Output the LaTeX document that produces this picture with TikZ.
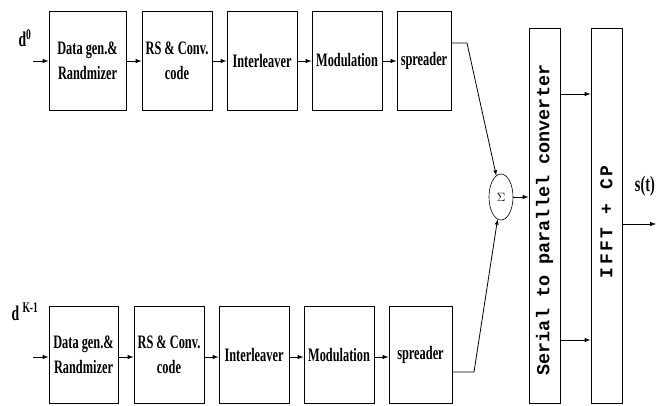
\documentclass[tikz,border=0pt]{standalone}
\usepackage{fontspec}
\usetikzlibrary{shapes.geometric}
\newfontfamily\blockfont[FakeStretch=0.65]{Liberation Serif}
\newfontfamily\vertfont{Liberation Mono}
\newfontfamily\spacedfont[LetterSpace=14]{Liberation Mono}
\tikzstyle{block}=[draw,line width=1pt,inner sep=0pt,align=center,font=\blockfont\bfseries\fontsize{19}{25}\selectfont]
\tikzstyle{tall}=[draw,line width=1pt,inner sep=0pt,minimum width=31pt,minimum height=375pt]
\tikzset{>=latex}

\begin{document}
\begin{tikzpicture}[x=1pt,y=-1pt]
\useasboundingbox (0,0) rectangle (656,405);
% upper branch
\node[block,minimum width=77pt,minimum height=99pt] at (87.5,60.5) (a1) {Data gen.\&\\Randmizer};
\node[block,minimum width=70pt,minimum height=99pt] at (177,60.5) (a2) {RS \& Conv.\\code};
\node[block,minimum width=70pt,minimum height=99pt] at (262,60.5) (a3) {Interleaver};
\node[block,minimum width=70pt,minimum height=99pt] at (347,60.5) (a4) {Modulation};
\node[block,minimum width=54pt,minimum height=99pt] at (424,60.5) (a5) {spreader};
% lower branch
\node[block,minimum width=69pt,minimum height=97pt] at (83.5,355) (b1) {Data gen.\&\\Randmizer};
\node[block,minimum width=70pt,minimum height=97pt] at (169,355) (b2) {RS \& Conv.\\code};
\node[block,minimum width=70pt,minimum height=97pt] at (254,355) (b3) {Interleaver};
\node[block,minimum width=70pt,minimum height=97pt] at (339,355) (b4) {Modulation};
\node[block,minimum width=63pt,minimum height=97pt] at (420.5,355) (b5) {spreader};
% inputs
\node[font=\blockfont\bfseries\fontsize{21}{21}\selectfont] at (25,38) (d0) {d\textsuperscript{0}};
\node[font=\blockfont\bfseries\fontsize{21}{21}\selectfont] at (25,312) (dK) {d \textsuperscript{K-1}};
\coordinate (in0) at (33,61);
\coordinate (in1) at (33,357);
% sum, converter, ifft
\node[draw,ellipse,line width=0.6pt,minimum width=24pt,minimum height=46pt,inner sep=0pt] at (501,197) (sum) {\fontsize{13}{13}\selectfont$\Sigma$};
\node[tall] at (544.5,215.5) (sp) {};
\node[tall] at (606.5,215.5) (ifft) {};
\node[rotate=90,font=\vertfont\bfseries\fontsize{18.5}{18.5}\selectfont] at (544.5,220) (sptext) {Serial to parallel converter};
\node[rotate=90,font=\spacedfont\bfseries\fontsize{18}{18}\selectfont] at (606.5,222) (iffttext) {IFFT + CP};
\node[anchor=east,inner sep=1pt,font=\blockfont\bfseries\fontsize{22}{22}\selectfont] at (656,186) (st) {s(t)};
\coordinate (k0) at (467,43);
\coordinate (k1) at (474,372);
\coordinate (out) at (656,224);
% arrows
\draw[->,line width=1pt] (in0) -- (a1.west |- in0);
\draw[->,line width=1pt] (a1.east |- in0) -- (a2.west |- in0);
\draw[->,line width=1pt] (a2.east |- in0) -- (a3.west |- in0);
\draw[->,line width=1pt] (a3.east |- in0) -- (a4.west |- in0);
\draw[->,line width=1pt] (a4.east |- in0) -- (a5.west |- in0);
\draw[->,line width=1pt] (in1) -- (b1.west |- in1);
\draw[->,line width=1pt] (b1.east |- in1) -- (b2.west |- in1);
\draw[->,line width=1pt] (b2.east |- in1) -- (b3.west |- in1);
\draw[->,line width=1pt] (b3.east |- in1) -- (b4.west |- in1);
\draw[->,line width=1pt] (b4.east |- in1) -- (b5.west |- in1);
\draw[->,line width=0.8pt] (a5.east |- k0) -- (k0) -- (sum);
\draw[->,line width=0.8pt] (b5.east |- k1) -- (k1) -- (sum);
\draw[->,line width=1pt] (sum) -- (sum -| sp.west);
\draw[->,line width=1pt] (sp.east |- 0,94) -- (ifft.west |- 0,94);
\draw[->,line width=1pt] (sp.east |- 0,340) -- (ifft.west |- 0,340);
\draw[->,line width=1pt] (ifft.east |- out) -- (out);
\end{tikzpicture}
\end{document}
